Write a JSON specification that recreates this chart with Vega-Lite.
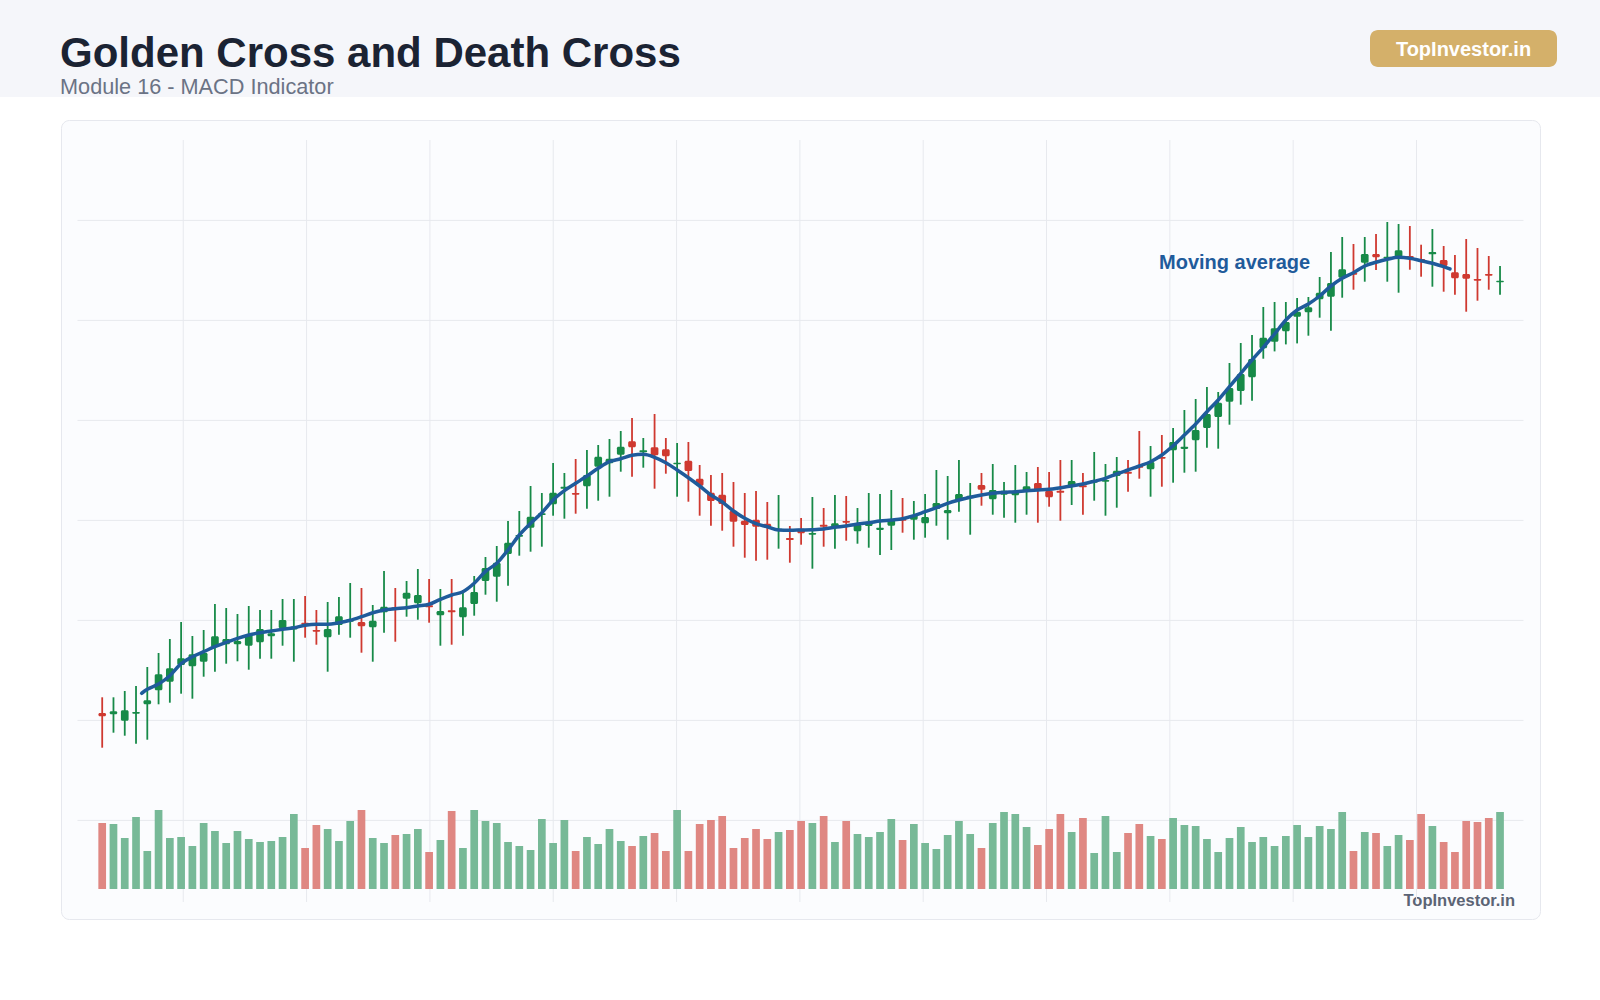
{
  "$schema": "https://vega.github.io/schema/vega-lite/v6.json",
  "width": 1479,
  "height": 799,
  "autosize": {"type": "none"},
  "padding": {"left": 61, "top": 120, "right": 60, "bottom": 81},
  "background": "#ffffff",
  "config": {
    "view": {"fill": "#fbfcfe", "stroke": "#e6e8ee", "strokeWidth": 1, "cornerRadius": 8},
    "font": "Liberation Sans"
  },
  "datasets": {
    "hgrid": [{"p": 90}, {"p": 100}, {"p": 110}, {"p": 120}, {"p": 130}, {"p": 140}, {"p": 150}],
    "vgrid": [{"g": 7.19}, {"g": 18.13}, {"g": 29.07}, {"g": 40.01}, {"g": 50.95}, {"g": 61.89}, {"g": 72.83}, {"g": 83.77}, {"g": 94.71}, {"g": 105.65}, {"g": 116.59}],
    "candles": [
      {"t": 0, "open": 100.74, "high": 102.31, "low": 97.27, "close": 100.41, "volume": 1980},
      {"t": 1, "open": 100.61, "high": 102.31, "low": 98.77, "close": 100.91, "volume": 1950},
      {"t": 2, "open": 99.97, "high": 102.94, "low": 98.47, "close": 101.01, "volume": 1530},
      {"t": 3, "open": 100.67, "high": 103.44, "low": 97.67, "close": 100.84, "volume": 2160},
      {"t": 4, "open": 101.61, "high": 105.34, "low": 98.07, "close": 102.01, "volume": 1140},
      {"t": 5, "open": 103.01, "high": 106.74, "low": 101.61, "close": 104.61, "volume": 2370},
      {"t": 6, "open": 103.87, "high": 108.14, "low": 101.77, "close": 105.21, "volume": 1530},
      {"t": 7, "open": 105.54, "high": 109.84, "low": 102.67, "close": 106.21, "volume": 1560},
      {"t": 8, "open": 105.41, "high": 108.44, "low": 102.17, "close": 106.61, "volume": 1290},
      {"t": 9, "open": 105.87, "high": 109.04, "low": 104.37, "close": 106.77, "volume": 1980},
      {"t": 10, "open": 107.34, "high": 111.64, "low": 104.87, "close": 108.41, "volume": 1740},
      {"t": 11, "open": 107.61, "high": 111.24, "low": 105.67, "close": 108.14, "volume": 1380},
      {"t": 12, "open": 107.61, "high": 110.64, "low": 105.91, "close": 107.94, "volume": 1740},
      {"t": 13, "open": 107.47, "high": 111.44, "low": 105.07, "close": 108.54, "volume": 1500},
      {"t": 14, "open": 107.81, "high": 111.04, "low": 106.17, "close": 109.14, "volume": 1410},
      {"t": 15, "open": 108.41, "high": 111.04, "low": 106.17, "close": 108.71, "volume": 1440},
      {"t": 16, "open": 109.21, "high": 112.14, "low": 107.47, "close": 110.04, "volume": 1560},
      {"t": 17, "open": 109.1, "high": 112.14, "low": 105.87, "close": 109.4, "volume": 2250},
      {"t": 18, "open": 109.77, "high": 112.44, "low": 108.27, "close": 109.61, "volume": 1230},
      {"t": 19, "open": 109.04, "high": 111.04, "low": 107.57, "close": 108.87, "volume": 1920},
      {"t": 20, "open": 108.31, "high": 111.84, "low": 104.87, "close": 109.14, "volume": 1800},
      {"t": 21, "open": 109.54, "high": 112.34, "low": 108.57, "close": 110.41, "volume": 1440},
      {"t": 22, "open": 109.87, "high": 113.74, "low": 108.27, "close": 110.11, "volume": 2040},
      {"t": 23, "open": 109.84, "high": 113.24, "low": 106.77, "close": 109.41, "volume": 2370},
      {"t": 24, "open": 109.31, "high": 111.54, "low": 105.87, "close": 109.97, "volume": 1530},
      {"t": 25, "open": 110.81, "high": 114.94, "low": 108.77, "close": 111.37, "volume": 1380},
      {"t": 26, "open": 111.31, "high": 113.24, "low": 107.87, "close": 111.11, "volume": 1620},
      {"t": 27, "open": 112.17, "high": 113.94, "low": 110.37, "close": 112.77, "volume": 1650},
      {"t": 28, "open": 111.71, "high": 115.14, "low": 110.07, "close": 112.54, "volume": 1800},
      {"t": 29, "open": 111.51, "high": 114.14, "low": 109.77, "close": 111.31, "volume": 1110},
      {"t": 30, "open": 110.51, "high": 113.14, "low": 107.47, "close": 110.94, "volume": 1470},
      {"t": 31, "open": 111.01, "high": 114.14, "low": 107.57, "close": 110.81, "volume": 2340},
      {"t": 32, "open": 110.31, "high": 113.04, "low": 108.47, "close": 111.31, "volume": 1230},
      {"t": 33, "open": 111.64, "high": 114.44, "low": 110.47, "close": 112.84, "volume": 2370},
      {"t": 34, "open": 113.94, "high": 116.34, "low": 112.57, "close": 115.24, "volume": 2040},
      {"t": 35, "open": 114.37, "high": 117.44, "low": 111.87, "close": 115.77, "volume": 1980},
      {"t": 36, "open": 116.64, "high": 119.94, "low": 113.47, "close": 117.77, "volume": 1410},
      {"t": 37, "open": 118.37, "high": 120.94, "low": 116.47, "close": 118.54, "volume": 1290},
      {"t": 38, "open": 119.27, "high": 123.44, "low": 116.87, "close": 120.37, "volume": 1170},
      {"t": 39, "open": 120.54, "high": 122.74, "low": 117.37, "close": 120.71, "volume": 2100},
      {"t": 40, "open": 121.61, "high": 125.74, "low": 120.47, "close": 122.77, "volume": 1380},
      {"t": 41, "open": 123.17, "high": 124.74, "low": 120.17, "close": 123.37, "volume": 2070},
      {"t": 42, "open": 122.74, "high": 126.14, "low": 120.67, "close": 122.57, "volume": 1140},
      {"t": 43, "open": 123.41, "high": 127.04, "low": 121.17, "close": 124.54, "volume": 1560},
      {"t": 44, "open": 125.37, "high": 127.54, "low": 121.97, "close": 126.37, "volume": 1350},
      {"t": 45, "open": 125.71, "high": 128.14, "low": 122.37, "close": 126.17, "volume": 1800},
      {"t": 46, "open": 126.57, "high": 128.94, "low": 124.87, "close": 127.37, "volume": 1440},
      {"t": 47, "open": 127.91, "high": 130.24, "low": 124.37, "close": 127.31, "volume": 1290},
      {"t": 48, "open": 126.81, "high": 128.24, "low": 125.27, "close": 127.01, "volume": 1590},
      {"t": 49, "open": 127.31, "high": 130.64, "low": 123.17, "close": 126.51, "volume": 1680},
      {"t": 50, "open": 127.11, "high": 128.24, "low": 124.67, "close": 126.41, "volume": 1140},
      {"t": 51, "open": 125.61, "high": 127.74, "low": 122.37, "close": 125.77, "volume": 2370},
      {"t": 52, "open": 125.97, "high": 127.84, "low": 121.87, "close": 124.94, "volume": 1140},
      {"t": 53, "open": 124.17, "high": 125.54, "low": 120.47, "close": 123.47, "volume": 1950},
      {"t": 54, "open": 122.77, "high": 124.54, "low": 119.47, "close": 121.94, "volume": 2070},
      {"t": 55, "open": 122.57, "high": 124.74, "low": 118.97, "close": 121.64, "volume": 2190},
      {"t": 56, "open": 120.97, "high": 123.84, "low": 117.37, "close": 119.87, "volume": 1230},
      {"t": 57, "open": 119.97, "high": 122.74, "low": 116.27, "close": 119.54, "volume": 1530},
      {"t": 58, "open": 120.07, "high": 122.94, "low": 115.97, "close": 119.37, "volume": 1800},
      {"t": 59, "open": 119.67, "high": 121.84, "low": 116.07, "close": 119.27, "volume": 1500},
      {"t": 60, "open": 118.97, "high": 122.54, "low": 117.17, "close": 119.17, "volume": 1710},
      {"t": 61, "open": 118.24, "high": 119.44, "low": 115.77, "close": 118.04, "volume": 1770},
      {"t": 62, "open": 119.17, "high": 120.24, "low": 117.57, "close": 118.71, "volume": 2040},
      {"t": 63, "open": 118.57, "high": 122.34, "low": 115.17, "close": 118.74, "volume": 1980},
      {"t": 64, "open": 119.57, "high": 121.24, "low": 117.37, "close": 119.37, "volume": 2190},
      {"t": 65, "open": 119.37, "high": 122.54, "low": 117.17, "close": 119.71, "volume": 1410},
      {"t": 66, "open": 119.94, "high": 122.44, "low": 117.97, "close": 119.77, "volume": 2040},
      {"t": 67, "open": 118.91, "high": 121.24, "low": 117.67, "close": 119.57, "volume": 1650},
      {"t": 68, "open": 119.44, "high": 122.74, "low": 117.27, "close": 119.87, "volume": 1560},
      {"t": 69, "open": 119.04, "high": 122.64, "low": 116.54, "close": 119.27, "volume": 1710},
      {"t": 70, "open": 119.47, "high": 123.04, "low": 117.04, "close": 120.04, "volume": 2100},
      {"t": 71, "open": 120.17, "high": 122.24, "low": 118.77, "close": 119.97, "volume": 1470},
      {"t": 72, "open": 120.07, "high": 121.94, "low": 118.07, "close": 120.54, "volume": 1950},
      {"t": 73, "open": 119.71, "high": 122.64, "low": 118.27, "close": 120.34, "volume": 1380},
      {"t": 74, "open": 121.14, "high": 125.04, "low": 119.47, "close": 121.74, "volume": 1200},
      {"t": 75, "open": 120.71, "high": 124.44, "low": 118.07, "close": 121.04, "volume": 1620},
      {"t": 76, "open": 121.97, "high": 126.04, "low": 120.87, "close": 122.64, "volume": 2040},
      {"t": 77, "open": 122.21, "high": 123.74, "low": 118.57, "close": 122.47, "volume": 1650},
      {"t": 78, "open": 123.54, "high": 124.74, "low": 121.47, "close": 123.07, "volume": 1230},
      {"t": 79, "open": 122.11, "high": 125.64, "low": 120.57, "close": 123.04, "volume": 1980},
      {"t": 80, "open": 122.57, "high": 123.84, "low": 120.27, "close": 122.97, "volume": 2310},
      {"t": 81, "open": 122.51, "high": 125.54, "low": 119.77, "close": 122.97, "volume": 2250},
      {"t": 82, "open": 122.87, "high": 124.84, "low": 120.57, "close": 123.41, "volume": 1860},
      {"t": 83, "open": 123.74, "high": 125.34, "low": 119.77, "close": 122.97, "volume": 1320},
      {"t": 84, "open": 122.97, "high": 124.84, "low": 121.37, "close": 122.31, "volume": 1800},
      {"t": 85, "open": 122.97, "high": 126.04, "low": 119.97, "close": 122.77, "volume": 2250},
      {"t": 86, "open": 123.37, "high": 126.04, "low": 121.54, "close": 123.94, "volume": 1710},
      {"t": 87, "open": 123.51, "high": 124.74, "low": 120.57, "close": 123.31, "volume": 2130},
      {"t": 88, "open": 123.77, "high": 126.84, "low": 121.97, "close": 124.04, "volume": 1080},
      {"t": 89, "open": 123.87, "high": 125.64, "low": 120.47, "close": 124.04, "volume": 2190},
      {"t": 90, "open": 124.44, "high": 126.34, "low": 121.27, "close": 124.97, "volume": 1110},
      {"t": 91, "open": 124.87, "high": 126.04, "low": 122.87, "close": 124.67, "volume": 1680},
      {"t": 92, "open": 125.47, "high": 128.94, "low": 124.17, "close": 125.27, "volume": 1950},
      {"t": 93, "open": 125.11, "high": 127.44, "low": 122.37, "close": 125.84, "volume": 1590},
      {"t": 94, "open": 126.34, "high": 128.54, "low": 123.37, "close": 126.17, "volume": 1500},
      {"t": 95, "open": 127.01, "high": 129.24, "low": 123.77, "close": 127.84, "volume": 2130},
      {"t": 96, "open": 127.14, "high": 131.04, "low": 124.77, "close": 127.37, "volume": 1920},
      {"t": 97, "open": 128.01, "high": 132.14, "low": 124.87, "close": 129.04, "volume": 1890},
      {"t": 98, "open": 129.24, "high": 133.34, "low": 127.27, "close": 130.64, "volume": 1500},
      {"t": 99, "open": 130.34, "high": 132.84, "low": 127.17, "close": 131.77, "volume": 1110},
      {"t": 100, "open": 131.87, "high": 135.74, "low": 129.57, "close": 133.24, "volume": 1530},
      {"t": 101, "open": 132.94, "high": 137.74, "low": 131.57, "close": 134.64, "volume": 1860},
      {"t": 102, "open": 134.31, "high": 138.54, "low": 131.97, "close": 136.14, "volume": 1410},
      {"t": 103, "open": 137.21, "high": 141.34, "low": 136.17, "close": 138.27, "volume": 1560},
      {"t": 104, "open": 137.87, "high": 141.84, "low": 136.9, "close": 139.21, "volume": 1290},
      {"t": 105, "open": 138.91, "high": 141.84, "low": 137.6, "close": 139.84, "volume": 1590},
      {"t": 106, "open": 140.37, "high": 142.24, "low": 137.7, "close": 140.87, "volume": 1920},
      {"t": 107, "open": 140.81, "high": 142.34, "low": 138.47, "close": 141.31, "volume": 1560},
      {"t": 108, "open": 142.11, "high": 144.34, "low": 140.27, "close": 142.77, "volume": 1890},
      {"t": 109, "open": 142.37, "high": 146.84, "low": 138.97, "close": 143.74, "volume": 1800},
      {"t": 110, "open": 144.27, "high": 148.34, "low": 142.27, "close": 145.11, "volume": 2310},
      {"t": 111, "open": 144.74, "high": 147.64, "low": 143.07, "close": 144.57, "volume": 1140},
      {"t": 112, "open": 145.77, "high": 148.34, "low": 143.87, "close": 146.64, "volume": 1710},
      {"t": 113, "open": 146.64, "high": 148.64, "low": 145.04, "close": 146.31, "volume": 1680},
      {"t": 114, "open": 146.21, "high": 149.84, "low": 143.87, "close": 146.37, "volume": 1290},
      {"t": 115, "open": 146.37, "high": 149.64, "low": 142.77, "close": 147.01, "volume": 1620},
      {"t": 116, "open": 146.44, "high": 149.44, "low": 145.07, "close": 146.21, "volume": 1470},
      {"t": 117, "open": 146.14, "high": 147.57, "low": 144.37, "close": 145.94, "volume": 2250},
      {"t": 118, "open": 146.61, "high": 149.14, "low": 143.37, "close": 146.84, "volume": 1890},
      {"t": 119, "open": 146.04, "high": 147.44, "low": 142.87, "close": 145.44, "volume": 1410},
      {"t": 120, "open": 144.81, "high": 146.54, "low": 142.57, "close": 144.21, "volume": 1110},
      {"t": 121, "open": 144.64, "high": 148.14, "low": 140.87, "close": 144.17, "volume": 2040},
      {"t": 122, "open": 144.14, "high": 147.24, "low": 141.97, "close": 143.97, "volume": 2010},
      {"t": 123, "open": 144.64, "high": 146.44, "low": 143.07, "close": 144.47, "volume": 2130},
      {"t": 124, "open": 143.81, "high": 145.44, "low": 142.57, "close": 143.97, "volume": 2310}
    ],
    "ma": [
      {"t": 3.5, "value": 102.71}, {"t": 4, "value": 103.11}, {"t": 5, "value": 103.64}, {"t": 6, "value": 104.47},
      {"t": 7, "value": 105.67}, {"t": 8, "value": 106.37}, {"t": 9, "value": 106.87}, {"t": 10, "value": 107.37},
      {"t": 11, "value": 107.81}, {"t": 12, "value": 108.21}, {"t": 13, "value": 108.54}, {"t": 14, "value": 108.77},
      {"t": 15, "value": 108.94}, {"t": 16, "value": 109.11}, {"t": 17, "value": 109.27}, {"t": 18, "value": 109.51},
      {"t": 19, "value": 109.61}, {"t": 20, "value": 109.61}, {"t": 21, "value": 109.77}, {"t": 22, "value": 110.01},
      {"t": 23, "value": 110.37}, {"t": 24, "value": 110.77}, {"t": 25, "value": 111.04}, {"t": 26, "value": 111.17},
      {"t": 27, "value": 111.27}, {"t": 28, "value": 111.44}, {"t": 29, "value": 111.61}, {"t": 30, "value": 112.11},
      {"t": 31, "value": 112.54}, {"t": 32, "value": 112.87}, {"t": 33, "value": 113.71}, {"t": 34, "value": 114.9},
      {"t": 35, "value": 115.71}, {"t": 36, "value": 117.04}, {"t": 37, "value": 118.54}, {"t": 38, "value": 119.71},
      {"t": 39, "value": 120.77}, {"t": 40, "value": 122.04}, {"t": 41, "value": 122.97}, {"t": 42, "value": 123.71},
      {"t": 43, "value": 124.44}, {"t": 44, "value": 125.21}, {"t": 45, "value": 125.87}, {"t": 46, "value": 126.17},
      {"t": 47, "value": 126.51}, {"t": 48, "value": 126.61}, {"t": 49, "value": 126.31}, {"t": 50, "value": 125.77},
      {"t": 51, "value": 125.04}, {"t": 52, "value": 124.27}, {"t": 53, "value": 123.44}, {"t": 54, "value": 122.54},
      {"t": 55, "value": 121.84}, {"t": 56, "value": 120.94}, {"t": 57, "value": 120.21}, {"t": 58, "value": 119.67},
      {"t": 59, "value": 119.37}, {"t": 60, "value": 119.04}, {"t": 61, "value": 119.01}, {"t": 62, "value": 119.04},
      {"t": 63, "value": 119.07}, {"t": 64, "value": 119.14}, {"t": 65, "value": 119.31}, {"t": 66, "value": 119.44},
      {"t": 67, "value": 119.64}, {"t": 68, "value": 119.77}, {"t": 69, "value": 119.94}, {"t": 70, "value": 120.04},
      {"t": 71, "value": 120.17}, {"t": 72, "value": 120.47}, {"t": 73, "value": 120.87}, {"t": 74, "value": 121.27},
      {"t": 75, "value": 121.71}, {"t": 76, "value": 122.04}, {"t": 77, "value": 122.31}, {"t": 78, "value": 122.54},
      {"t": 79, "value": 122.71}, {"t": 80, "value": 122.81}, {"t": 81, "value": 122.87}, {"t": 82, "value": 122.97},
      {"t": 83, "value": 123.04}, {"t": 84, "value": 123.11}, {"t": 85, "value": 123.27}, {"t": 86, "value": 123.44},
      {"t": 87, "value": 123.64}, {"t": 88, "value": 123.91}, {"t": 89, "value": 124.21}, {"t": 90, "value": 124.64},
      {"t": 91, "value": 125.04}, {"t": 92, "value": 125.44}, {"t": 93, "value": 125.87}, {"t": 94, "value": 126.54},
      {"t": 95, "value": 127.47}, {"t": 96, "value": 128.54}, {"t": 97, "value": 129.64}, {"t": 98, "value": 130.87},
      {"t": 99, "value": 132.04}, {"t": 100, "value": 133.37}, {"t": 101, "value": 134.71}, {"t": 102, "value": 136.04},
      {"t": 103, "value": 137.31}, {"t": 104, "value": 138.64}, {"t": 105, "value": 140.04}, {"t": 106, "value": 141.04},
      {"t": 107, "value": 141.64}, {"t": 108, "value": 142.44}, {"t": 109, "value": 143.44}, {"t": 110, "value": 144.21},
      {"t": 111, "value": 144.77}, {"t": 112, "value": 145.44}, {"t": 113, "value": 145.81}, {"t": 114, "value": 146.11},
      {"t": 115, "value": 146.31}, {"t": 116, "value": 146.21}, {"t": 117, "value": 145.97}, {"t": 118, "value": 145.71},
      {"t": 119, "value": 145.37}, {"t": 119.56, "value": 145.14}
    ]
  },
  "layer": [
    {
      "description": "header band",
      "data": {"values": [{}]},
      "mark": {"type": "rect", "x": -61, "x2": 1539, "y": -120, "y2": -23, "fill": "#f5f6fa"},
      "encoding": {}
    },
    {
      "description": "heading and subheading",
      "data": {"values": [{"title": "Golden Cross and Death Cross", "subtitle": "Module 16 - MACD Indicator"}]},
      "layer": [
        {"mark": {"type": "text", "x": -1, "y": -52.7, "align": "left", "baseline": "alphabetic", "font": "Liberation Sans", "fontSize": 42, "fontWeight": "bold", "fill": "#1b2333"}, "encoding": {"text": {"field": "title"}}},
        {"mark": {"type": "text", "x": -1, "y": -25.6, "align": "left", "baseline": "alphabetic", "font": "Liberation Sans", "fontSize": 21.7, "fill": "#6b7385"}, "encoding": {"text": {"field": "subtitle"}}}
      ]
    },
    {
      "description": "brand badge",
      "data": {"values": [{"label": "TopInvestor.in"}]},
      "layer": [
        {"mark": {"type": "rect", "x": 1309, "x2": 1496, "y": -90, "y2": -53, "cornerRadius": 8, "fill": "#d4b06a"}, "encoding": {}},
        {"mark": {"type": "text", "x": 1402.5, "y": -64.3, "align": "center", "baseline": "alphabetic", "font": "Liberation Sans", "fontSize": 20, "fontWeight": "bold", "fill": "#ffffff"}, "encoding": {"text": {"field": "label"}}}
      ]
    },
    {
      "description": "watermark",
      "data": {"values": [{"label": "TopInvestor.in"}]},
      "mark": {"type": "text", "x": 1454, "y": 786, "align": "right", "baseline": "alphabetic", "font": "Liberation Sans", "fontSize": 16.5, "fontWeight": "bold", "fill": "#5b6475"},
      "encoding": {"text": {"field": "label"}}
    },
    {
      "layer": [
        {
          "data": {"name": "hgrid"},
          "mark": {"type": "rule", "stroke": "#e7e9ee", "strokeWidth": 1},
          "encoding": {
            "y": {"field": "p", "type": "quantitative", "scale": {"domain": [80.14, 160.04], "nice": false, "zero": false}, "axis": null},
            "x": {"datum": -2.19, "type": "quantitative", "scale": {"domain": [-3.655, 127.546], "nice": false, "zero": false, "padding": 0}, "axis": null},
            "x2": {"datum": 126.08}
          }
        },
        {
          "data": {"name": "vgrid"},
          "mark": {"type": "rule", "stroke": "#e7e9ee", "strokeWidth": 1},
          "encoding": {
            "x": {"field": "g", "type": "quantitative", "axis": null},
            "y": {"datum": 158.04, "type": "quantitative", "axis": null},
            "y2": {"datum": 81.84}
          }
        },
        {
          "data": {"name": "candles"},
          "mark": {"type": "rule", "strokeWidth": 1.8},
          "encoding": {
            "x": {"field": "t", "type": "quantitative", "axis": null},
            "y": {"field": "low", "type": "quantitative", "axis": null},
            "y2": {"field": "high"},
            "color": {"condition": {"test": "datum.close >= datum.open", "value": "#178a48"}, "value": "#cf3930"}
          }
        },
        {
          "data": {"name": "candles"},
          "mark": {"type": "bar", "width": 7.7, "cornerRadius": 1.5},
          "encoding": {
            "x": {"field": "t", "type": "quantitative", "axis": null},
            "y": {"field": "open", "type": "quantitative", "axis": null},
            "y2": {"field": "close"},
            "color": {"condition": {"test": "datum.close >= datum.open", "value": "#178a48"}, "value": "#cf3930"}
          }
        },
        {
          "data": {"name": "ma"},
          "mark": {"type": "line", "stroke": "#1f5b9b", "strokeWidth": 3.5, "interpolate": "monotone", "strokeCap": "round"},
          "encoding": {
            "x": {"field": "t", "type": "quantitative", "axis": null},
            "y": {"field": "value", "type": "quantitative", "axis": null}
          }
        },
        {
          "data": {"values": [{"label": "Moving average", "t": 107.16, "price": 145.1}]},
          "mark": {"type": "text", "align": "right", "baseline": "alphabetic", "font": "Liberation Sans", "fontSize": 20, "fontWeight": "bold", "fill": "#1f5b9b"},
          "encoding": {
            "x": {"field": "t", "type": "quantitative", "axis": null},
            "y": {"field": "price", "type": "quantitative", "axis": null},
            "text": {"field": "label"}
          }
        }
      ]
    },
    {
      "data": {"name": "candles"},
      "mark": {"type": "bar", "width": 7.7},
      "encoding": {
        "x": {"field": "t", "type": "quantitative", "axis": null},
        "y": {"field": "volume", "type": "quantitative", "scale": {"domain": [-900, 23070], "nice": false, "zero": false}, "axis": null},
        "color": {"condition": {"test": "datum.close >= datum.open", "value": "#77b997"}, "value": "#df8782"}
      }
    }
  ],
  "resolve": {"scale": {"y": "independent"}}
}
